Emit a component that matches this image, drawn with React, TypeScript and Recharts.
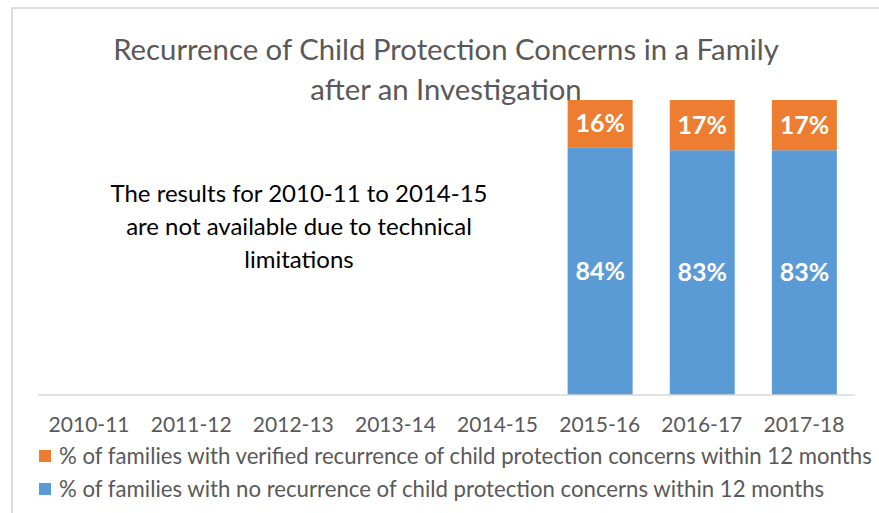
import React from 'react'
import {Bar, BarChart, LabelList, XAxis, YAxis} from 'recharts'

const years = ['2010-11', '2011-12', '2012-13', '2013-14', '2014-15', '2015-16', '2016-17', '2017-18']
const noRecurrence = [null, null, null, null, null, 84, 83, 83]
const verified = [null, null, null, null, null, 16, 17, 17]

const verifiedName = '% of families with verified recurrence of child protection concerns within 12 months'
const noRecurrenceName = '% of families with no recurrence of child protection concerns within 12 months'

const titleLines = ['Recurrence of Child Protection Concerns in a Family', 'after an Investigation']
const noteLines = ['The results for 2010-11 to 2014-15', 'are not available due to technical', 'limitations']

const data = years.map((y, i) => ({name: y, none: noRecurrence[i], verified: verified[i]}))

const font = 'Lato, "Open Sans", sans-serif'
const grey = '#595959'
const orange = '#ED7D31'
const blue = '#5B9BD5'

const pct = (v: any) => (v == null ? '' : `${v}%`)

const legendRows = [
    {name: verifiedName, color: orange},
    {name: noRecurrenceName, color: blue},
]

const App = () => {
    return (
        <div style={{position: 'relative', width: 879, height: 513, background: '#fff', overflow: 'hidden', fontFamily: font}}>
            <style>{'html, body { margin: 0; overflow: hidden; }'}</style>
            <div style={{position: 'absolute', left: 11, top: 7, right: -4, bottom: -4, borderTop: '2px solid #dcdcdc', borderLeft: '2px solid #dcdcdc'}} />

            <BarChart
                width={879}
                height={513}
                data={data}
                margin={{top: 100, right: 24, left: 38, bottom: 88}}
                style={{position: 'absolute', left: 0, top: 0}}
            >
                <XAxis
                    dataKey="name"
                    height={30}
                    tickLine={false}
                    axisLine={{stroke: '#d9d9d9', strokeWidth: 1.5}}
                    tick={{fill: grey, fontSize: 21, fontFamily: font}}
                    tickMargin={16}
                    interval={0}
                />
                <YAxis hide domain={[0, 100]} />
                <Bar dataKey="none" stackId="a" fill={blue} barSize={65} isAnimationActive={false}>
                    <LabelList dataKey="none" position="center" formatter={pct} fill="#fff" fontSize={25} fontWeight="bold" fontFamily={font} />
                </Bar>
                <Bar dataKey="verified" stackId="a" fill={orange} barSize={65} isAnimationActive={false}>
                    <LabelList dataKey="verified" position="center" formatter={pct} fill="#fff" fontSize={25} fontWeight="bold" fontFamily={font} />
                </Bar>
            </BarChart>

            <div style={{position: 'absolute', left: 0, width: 892, top: 29, textAlign: 'center', color: grey, fontSize: 29.3, lineHeight: '40px', whiteSpace: 'nowrap'}}>
                {titleLines.map(t => <div key={t}>{t}</div>)}
            </div>

            <div style={{position: 'absolute', left: 79, width: 440, top: 176, textAlign: 'center', color: '#000', fontSize: 24, lineHeight: '33px', whiteSpace: 'nowrap'}}>
                {noteLines.map(t => <div key={t}>{t}</div>)}
            </div>

            <div style={{position: 'absolute', left: 39, top: 439, color: grey, fontSize: 22.2}}>
                {legendRows.map(r => (
                    <div key={r.name} style={{display: 'flex', alignItems: 'center', height: 33, whiteSpace: 'nowrap'}}>
                        <span style={{display: 'inline-block', width: 12, height: 12, background: r.color, marginRight: 8}} />
                        {r.name}
                    </div>
                ))}
            </div>
        </div>
    )
}

export default App
